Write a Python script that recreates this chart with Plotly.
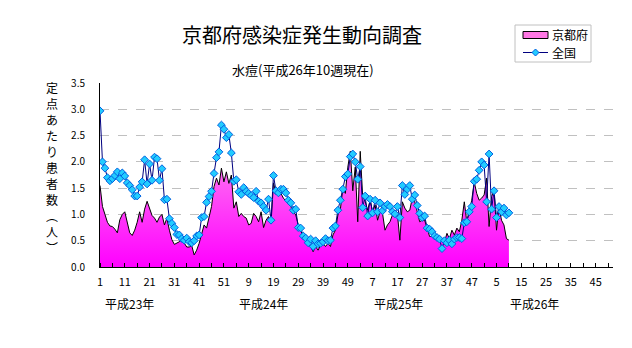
import plotly.graph_objects as go

# Weekly sentinel counts of chickenpox (水痘), week 1 of H23 (2011) through week 10 of H26 (2014)
kyoto = [
    1.55, 1.15, 1.00, 0.85, 0.78, 0.77, 0.72, 0.65, 0.90, 1.00,
    1.05, 0.85, 0.65, 0.60, 0.70, 0.85, 1.05, 0.85, 1.10, 1.25,
    1.10, 0.98, 0.93, 0.85, 0.95, 1.00, 0.80, 0.93, 0.70, 0.52,
    0.43, 0.45, 0.48, 0.53, 0.45, 0.38, 0.38, 0.41, 0.23, 0.32,
    0.45, 0.61, 0.80, 0.74, 0.93, 1.15, 1.53, 1.69, 1.56, 1.88,
    1.62, 1.81, 1.59, 1.75, 1.12, 1.24, 0.96, 1.02, 0.96, 0.93,
    0.80, 0.83, 1.02, 0.96, 0.86, 1.05, 0.75, 0.89, 0.96, 0.83,
    1.60, 1.40, 1.37, 1.40, 1.31, 1.25, 1.21, 1.15, 1.05, 0.99,
    0.80, 0.70, 0.55, 0.51, 0.42, 0.39, 0.29, 0.39, 0.32, 0.42,
    0.45, 0.39, 0.45, 0.39, 0.61, 0.70, 0.99, 1.10, 1.50, 1.40,
    1.90, 2.20, 1.45, 1.90, 0.86, 2.20, 1.34, 1.25, 1.08, 1.27,
    1.05, 1.18, 0.89, 1.05, 1.02, 0.70, 0.80, 0.86, 0.99, 1.05,
    1.02, 0.51, 1.24, 1.12, 1.05, 1.08, 1.31, 1.24, 1.05, 0.86,
    0.89, 0.89, 0.74, 0.58, 0.58, 0.64, 0.58, 0.51, 0.54, 0.48,
    0.64, 0.54, 0.70, 0.61, 0.74, 0.67, 0.89, 1.24, 0.86, 1.08,
    1.27, 1.62, 1.40, 1.27, 1.31, 1.37, 1.69, 0.77, 1.34, 1.46,
    0.70, 1.15, 0.89, 0.80, 0.54, 0.51,
]

national = [
    2.97, 2.00, 1.88, 1.70, 1.64, 1.68, 1.74, 1.81, 1.68, 1.79,
    1.73, 1.60, 1.55, 1.47, 1.35, 1.35, 1.52, 1.62, 2.04, 1.58,
    1.96, 1.65, 2.09, 2.06, 1.65, 1.87, 1.28, 1.29, 0.92, 0.83,
    0.75, 0.62, 0.61, 0.54, 0.51, 0.55, 0.48, 0.46, 0.50, 0.59,
    0.61, 0.94, 0.96, 1.23, 1.34, 1.44, 1.78, 2.08, 2.19, 2.70,
    2.62, 2.46, 2.52, 2.17, 1.63, 1.66, 1.43, 1.38, 1.51, 1.44,
    1.40, 1.36, 1.32, 1.44, 1.25, 1.22, 1.15, 1.08, 1.29, 0.89,
    1.74, 1.45, 1.41, 1.48, 1.48, 1.41, 1.27, 1.22, 1.08, 1.10,
    0.75, 0.74, 0.59, 0.55, 0.46, 0.53, 0.39, 0.50, 0.44, 0.45,
    0.48, 0.54, 0.50, 0.51, 0.74, 0.78, 1.08, 1.27, 1.48, 1.72,
    1.77, 2.10, 2.15, 2.00, 1.67, 1.91, 1.13, 1.35, 0.97, 1.29,
    1.03, 1.27, 1.05, 1.22, 1.07, 1.15, 1.19, 1.15, 1.05, 1.01,
    1.15, 0.94, 1.55, 1.38, 1.48, 1.55, 1.29, 1.37, 1.17, 1.02,
    0.94, 0.97, 0.74, 0.72, 0.67, 0.59, 0.56, 0.53, 0.35, 0.50,
    0.46, 0.51, 0.44, 0.53, 0.56, 0.56, 0.54, 0.84, 0.86, 1.05,
    1.15, 1.63, 1.67, 1.84, 2.00, 1.94, 1.24, 2.15, 1.10, 1.45,
    0.94, 1.15, 1.05, 1.12, 0.99, 1.03,
]

# Running week index across four 52-week years
weeks = list(range(1, len(kyoto) + 1))
total_weeks = 52 * 4

tick_positions = list(range(1, 202, 10))
tick_labels = ["1", "11", "21", "31", "41", "51", "9", "19", "29", "39", "49",
               "7", "17", "27", "37", "47", "5", "15", "25", "35", "45"]

year_labels = ["平成23年", "平成24年", "平成25年", "平成26年"]
year_label_x = [13.1, 67.1, 121.6, 176.4]

y_ticks = [0.0, 0.5, 1.0, 1.5, 2.0, 2.5, 3.0, 3.5]
y_title_chars = ["定", "点", "あ", "た", "り", "患", "者", "数", "︵", "人", "︶"]

series_names = ["京都府", "全国"]

FONT = "Noto Sans CJK JP"
FILL_SCALE = [[0, "#FF00FF"], [1, "#FFA8EC"]]

# Plot area in pixels, used to place the decorations around it
W, H = 632, 348
L, R, T, B = 100, 19, 83, 81
PW, PH = W - L - R, H - T - B


def px(x):
    return (x - L) / PW


def py(y):
    return (H - B - y) / PH


fig = go.Figure()

fig.add_trace(go.Scatter(
    x=weeks, y=kyoto, name=series_names[0], mode="lines",
    line=dict(color="black", width=1),
    fill="tozeroy", fillcolor="#FF66DD",
    fillgradient=dict(type="vertical", start=0, stop=3.0, colorscale=FILL_SCALE),
    showlegend=False,
))

fig.add_trace(go.Scatter(
    x=weeks, y=national, name=series_names[1], mode="lines+markers",
    line=dict(color="#000080", width=1),
    marker=dict(symbol="diamond", size=6, color="#22CCFF",
                line=dict(color="#0060E0", width=1)),
    showlegend=False,
))

annotations = [
    dict(text="京都府感染症発生動向調査", x=px(302), y=py(35), xref="paper", yref="paper",
         xanchor="center", yanchor="middle", showarrow=False,
         font=dict(family=FONT, size=20, color="black")),
    dict(text="水痘(平成26年10週現在)", x=px(303), y=py(69), xref="paper", yref="paper",
         xanchor="center", yanchor="middle", showarrow=False,
         font=dict(family=FONT, size=13, color="black")),
]

# Vertical axis title, one character per row
for i, ch in enumerate(y_title_chars):
    annotations.append(dict(text=ch, x=px(52), y=py(87 + 16 * i), xref="paper", yref="paper",
                            xanchor="center", yanchor="middle", showarrow=False,
                            height=15, font=dict(family=FONT, size=12, color="black")))

for label, xpos in zip(year_labels, year_label_x):
    annotations.append(dict(text=label, x=xpos, y=py(303), xref="x", yref="paper",
                            xanchor="center", yanchor="middle", showarrow=False,
                            font=dict(family=FONT, size=12, color="black")))

# Legend box with a filled swatch and a line-with-diamond key
shapes = [
    dict(type="rect", xref="paper", yref="paper", x0=px(515), x1=px(591), y0=py(25), y1=py(62),
         line=dict(color="#C0C0C0", width=1), fillcolor="white", layer="above"),
    dict(type="rect", xref="paper", yref="paper", x0=px(523), x1=px(548), y0=py(31.5), y1=py(38.5),
         line=dict(color="black", width=1), fillcolor="#FF77E4", layer="above"),
    dict(type="line", xref="paper", yref="paper", x0=px(523), x1=px(548), y0=py(52.5), y1=py(52.5),
         line=dict(color="#000080", width=1), layer="above"),
    dict(type="path", xref="paper", yref="paper", layer="above",
         path=(f"M {px(535.5)},{py(49)} L {px(539)},{py(52.5)} "
               f"L {px(535.5)},{py(56)} L {px(532)},{py(52.5)} Z"),
         fillcolor="#22CCFF", line=dict(color="#0060E0", width=1)),
]
for name, ypos in zip(series_names, [35, 53]):
    annotations.append(dict(text=name, x=px(550), y=py(ypos), xref="paper", yref="paper",
                            xanchor="left", yanchor="middle", showarrow=False,
                            font=dict(family=FONT, size=12, color="black")))

fig.update_layout(
    width=W, height=H,
    margin=dict(l=L, r=R, t=T, b=B),
    paper_bgcolor="white", plot_bgcolor="white",
    font=dict(family=FONT, size=11, color="black"),
    showlegend=False,
    annotations=annotations,
    shapes=shapes,
    xaxis=dict(
        range=[1, total_weeks], tickmode="array", tickvals=tick_positions,
        ticktext=tick_labels, ticks="", showgrid=False, zeroline=False,
        showline=True, linecolor="black", linewidth=1,
        tickfont=dict(family=FONT, size=11), ticklabelstandoff=5,
        minor=dict(ticks="inside", tick0=1, dtick=5, ticklen=4,
                   tickcolor="black", showgrid=False),
    ),
    yaxis=dict(
        range=[0, 3.5], tickmode="array", tickvals=y_ticks,
        ticktext=[f"{v:.1f}" for v in y_ticks], ticks="",
        showgrid=True, gridcolor="#C0C0C0", griddash="dash", gridwidth=1,
        zeroline=False, showline=True, linecolor="black", linewidth=1,
        tickfont=dict(family=FONT, size=10), ticklabelstandoff=12,
    ),
)

fig.write_html("out.html")
